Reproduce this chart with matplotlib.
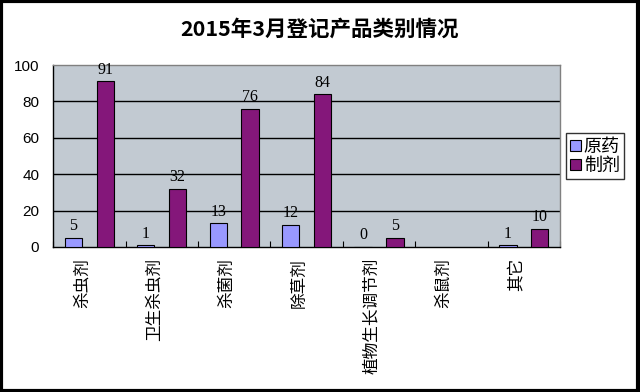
import matplotlib
matplotlib.use("Agg")
import matplotlib.pyplot as plt
import numpy as np
from matplotlib.patches import Rectangle

plt.rcParams['font.family'] = ['Noto Sans CJK SC', 'DejaVu Sans']

categories = ["杀虫剂", "卫生杀虫剂", "杀菌剂", "除草剂", "植物生长调节剂", "杀鼠剂", "其它"]
yuanyao = [5, 1, 13, 12, 0, None, 1]
zhiji = [91, 32, 76, 84, 5, None, 10]
series_names = ["原药", "制剂"]
yticks = [0, 20, 40, 60, 80, 100]
title = "2015年3月登记产品类别情况"

fig = plt.figure(figsize=(6.4, 3.92), dpi=100)
fig.patch.set_facecolor("white")
ax = fig.add_axes([0.083, 0.370, 0.792, 0.464])
ax.set_facecolor("#C2CAD2")

x = np.arange(len(categories))
w = 0.24
off = 0.22
colors = ["#9999FF", "#84177A"]
for vals, o, c, name in [(yuanyao, -off, colors[0], series_names[0]), (zhiji, off, colors[1], series_names[1])]:
    xs = [xi + o for xi, v in zip(x, vals) if v is not None]
    vs = [v for v in vals if v is not None]
    ax.bar(xs, vs, width=w, color=c, edgecolor="black", linewidth=0.8, label=name, zorder=3)
    for xi, v in zip(xs, vs):
        ax.text(xi, v + 2, str(v), ha="center", va="bottom", fontsize=11.5,
                family=["Liberation Serif", "DejaVu Serif"], zorder=4)

ax.set_xlim(-0.5, len(categories) - 0.5)
ax.set_ylim(0, 100)
ax.set_yticks(yticks)
ax.set_yticklabels([str(t) for t in yticks], fontsize=11, family=["Liberation Sans", "DejaVu Sans"])
for t in yticks[1:-1]:
    ax.axhline(t, color="black", linewidth=1.0, zorder=1)

ax.set_xticks(np.arange(len(categories) + 1) - 0.5, minor=False)
ax.set_xticklabels([])
ax.tick_params(axis="x", direction="in", length=4, width=0.8, color="black")
ax.tick_params(axis="y", length=0, pad=10)
for i, c in enumerate(categories):
    ax.text(i - 0.1, -0.06, c, transform=ax.get_xaxis_transform(), rotation=90,
            ha="center", va="top", fontsize=12, rotation_mode="default")

for s in ["left", "bottom"]:
    ax.spines[s].set_color("black")
    ax.spines[s].set_linewidth(1.0)
for s in ["top", "right"]:
    ax.spines[s].set_color("#808080")
    ax.spines[s].set_linewidth(1.0)

leg = fig.legend(loc="upper left", bbox_to_anchor=(0.884, 0.66), frameon=True, fancybox=False,
                 edgecolor="black", fontsize=13, handlelength=0.6, handleheight=0.6,
                 handletextpad=0.15, borderpad=0.25, labelspacing=0.05, borderaxespad=0)
leg.get_frame().set_linewidth(1.0)

fig.text(0.5, 0.925, title, ha="center", va="center", fontsize=15.5, fontweight="bold")

fig.patches.append(Rectangle((0.002, 0.003), 0.995, 0.994, transform=fig.transFigure,
                             fill=False, edgecolor="black", linewidth=3, zorder=10))

fig.savefig("out.png", dpi=100)
